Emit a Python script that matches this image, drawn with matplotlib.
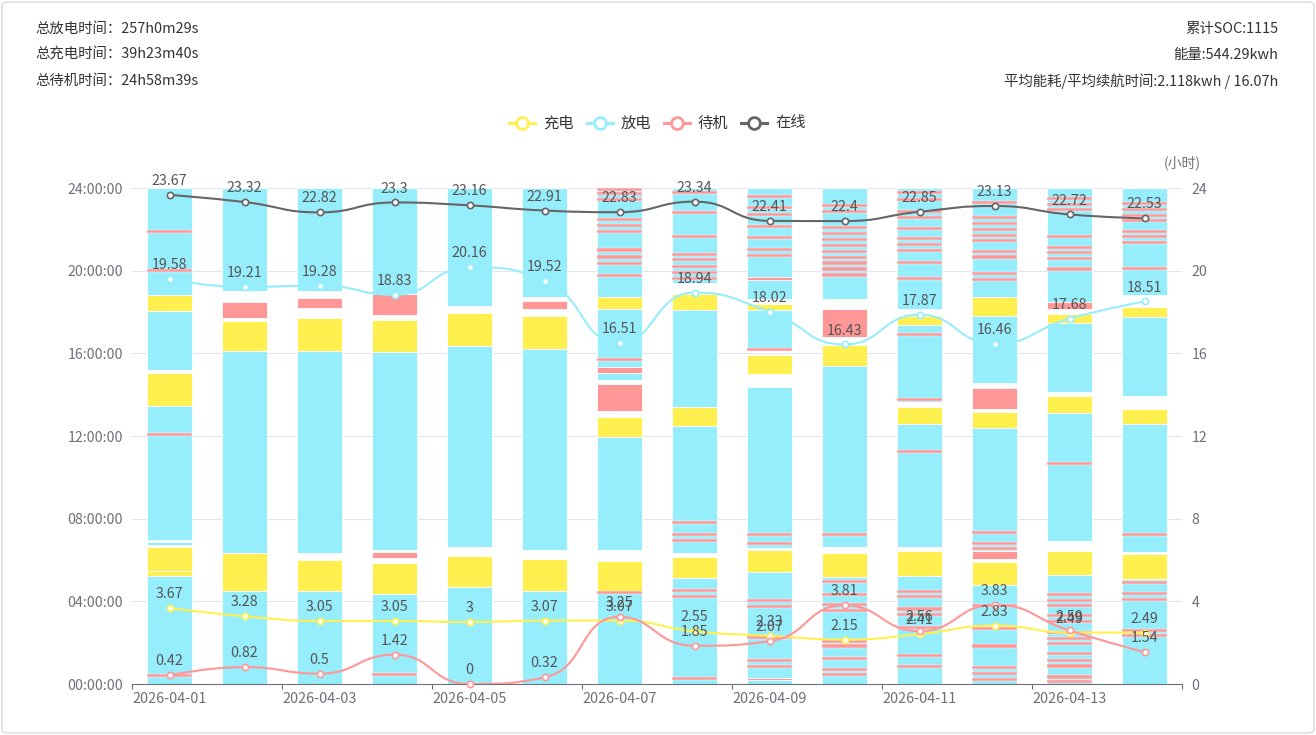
import matplotlib
matplotlib.use('Agg')
import matplotlib.pyplot as plt
import numpy as np
from matplotlib.path import Path
from matplotlib.patches import PathPatch, FancyBboxPatch
from matplotlib.lines import Line2D

plt.rcParams['font.family'] = ['Noto Sans CJK SC', 'DejaVu Sans']

# ---------------- data ----------------
dates = ['2026-04-01', '2026-04-02', '2026-04-03', '2026-04-04', '2026-04-05',
         '2026-04-06', '2026-04-07', '2026-04-08', '2026-04-09', '2026-04-10',
         '2026-04-11', '2026-04-12', '2026-04-13', '2026-04-14']
charge_hours = [3.67, 3.28, 3.05, 3.05, 3, 3.07, 3.07, 2.55, 2.33, 2.15, 2.41, 2.83, 2.49, 2.49]
discharge_hours = [19.58, 19.21, 19.28, 18.83, 20.16, 19.52, 16.51, 18.94, 18.02, 16.43, 17.87, 16.46, 17.68, 18.51]
idle_hours = [0.42, 0.82, 0.5, 1.42, 0, 0.32, 3.25, 1.85, 2.07, 3.81, 2.56, 3.83, 2.59, 1.54]
online_hours = [23.67, 23.32, 22.82, 23.3, 23.16, 22.91, 22.83, 23.34, 22.41, 22.4, 22.85, 23.13, 22.72, 22.53]

# status timeline per day: (start hour, end hour, status) c=charge d=discharge i=idle
seg_01 = [(18.83, 24, 'd'), (18.06, 18.83, 'c'), (15.2, 18.06, 'd'), (13.46, 15.05, 'c'),
          (6.95, 13.46, 'd'), (6.75, 6.88, 'd'), (5.49, 6.65, 'c'), (5.24, 5.45, 'c'), (0, 5.24, 'd')]
seg_02 = [(19.0, 24, 'd'), (17.7, 18.5, 'i'), (16.1, 17.55, 'c'), (6.33, 16.1, 'd'),
          (4.48, 6.33, 'c'), (0, 4.48, 'd')]
seg_03 = [(19.0, 24, 'd'), (18.18, 18.67, 'i'), (16.12, 17.7, 'c'), (6.35, 16.12, 'd'),
          (4.51, 6.0, 'c'), (0, 4.51, 'd')]
seg_04 = [(18.88, 24, 'd'), (17.86, 18.88, 'i'), (16.08, 17.62, 'c'), (6.46, 16.08, 'd'),
          (6.08, 6.41, 'i'), (4.35, 5.85, 'c'), (0, 4.35, 'd')]
seg_05 = [(18.3, 24, 'd'), (16.36, 17.95, 'c'), (6.62, 16.36, 'd'), (4.71, 6.17, 'c'), (0, 4.71, 'd')]
seg_06 = [(18.75, 24, 'd'), (18.16, 18.51, 'i'), (16.23, 17.83, 'c'), (6.5, 16.23, 'd'),
          (4.51, 6.03, 'c'), (0, 4.51, 'd')]
seg_07 = [(18.75, 24, 'd'), (18.14, 18.75, 'c'), (14.7, 18.14, 'd'), (15.06, 15.35, 'i'),
          (13.2, 14.5, 'i'), (11.93, 12.93, 'c'), (6.48, 11.93, 'd'), (4.43, 5.93, 'c'), (0, 4.43, 'd')]
seg_08 = [(19.4, 24, 'd'), (18.11, 18.85, 'c'), (13.38, 18.11, 'd'), (12.49, 13.38, 'c'),
          (6.34, 12.49, 'd'), (5.11, 6.13, 'c'), (0, 5.11, 'd')]
seg_09 = [(18.64, 24, 'd'), (19.55, 19.7, 'i'), (18.1, 18.4, 'c'), (16.17, 18.1, 'd'),
          (14.98, 15.9, 'c'), (14.38, 14.44, 'c'), (6.6, 14.38, 'd'), (5.4, 6.5, 'c'),
          (0, 5.4, 'd'), (0.18, 0.3, 'i')]
seg_10 = [(18.62, 24, 'd'), (16.81, 18.14, 'i'), (15.39, 16.4, 'c'), (6.65, 15.39, 'd'),
          (5.2, 6.33, 'c'), (0, 5.2, 'd')]
seg_11 = [(18.14, 24, 'd'), (17.38, 17.8, 'c'), (13.65, 17.38, 'd'), (12.6, 13.38, 'c'),
          (6.62, 12.6, 'd'), (5.24, 6.42, 'c'), (0, 5.24, 'd')]
seg_12 = [(18.75, 24, 'd'), (17.82, 18.75, 'c'), (14.58, 17.82, 'd'), (13.33, 14.3, 'i'),
          (12.41, 13.17, 'c'), (6.42, 12.41, 'd'), (6.05, 6.42, 'i'), (4.79, 5.89, 'c'), (0, 4.79, 'd')]
seg_13 = [(18.46, 24, 'd'), (18.14, 18.46, 'i'), (17.46, 17.9, 'c'), (14.11, 17.46, 'd'),
          (13.09, 13.95, 'c'), (6.94, 13.09, 'd'), (5.27, 6.42, 'c'), (0, 5.27, 'd')]
seg_14 = [(18.8, 24, 'd'), (17.75, 18.24, 'c'), (13.93, 17.75, 'd'), (12.57, 13.33, 'c'),
          (6.37, 12.57, 'd'), (5.08, 6.29, 'c'), (0, 5.08, 'd')]

# brief idle events (hour of day)
marks_01 = [21.9, 20.0, 12.07, 0.4]
marks_02 = []
marks_03 = []
marks_04 = [0.47]
marks_05 = []
marks_06 = []
marks_07 = [23.94, 23.74, 23.45, 22.48, 22.19, 21.9, 21.0, 20.66, 20.34, 19.76, 15.7, 4.43]
marks_08 = [23.77, 22.83, 21.67, 20.78, 20.53, 20.2, 19.9, 19.63, 7.83, 7.23, 6.94, 4.51, 4.22, 0.27]
marks_09 = [23.6, 23.04, 22.72, 22.15, 21.59, 21.02, 20.73, 16.2, 7.23, 6.78, 4.03, 3.74, 2.25, 1.12, 0.83]
marks_10 = [23.16, 22.88, 22.07, 21.78, 21.5, 21.21, 20.94, 20.65, 20.37, 20.08, 19.79, 7.22,
            4.97, 4.35, 3.83, 3.54, 2.05, 1.84, 1.25, 0.71, 0.44]
marks_11 = [23.77, 23.45, 22.88, 22.56, 22.04, 21.54, 21.26, 20.99, 20.4, 19.63, 16.89, 13.77,
            11.23, 4.47, 4.23, 3.63, 3.38, 2.73, 1.39, 0.83]
marks_12 = [23.32, 22.56, 22.28, 21.99, 21.7, 21.46, 20.94, 20.66, 19.85, 19.59, 7.35, 6.78, 6.54,
            3.79, 2.7, 1.84, 0.8, 0.51, 0.23]
marks_13 = [23.48, 23.2, 22.96, 21.64, 21.13, 20.89, 20.6, 20.08, 10.69, 4.32, 4.03, 3.79, 3.31,
            3.03, 2.49, 2.21, 1.96, 1.47, 1.14, 0.87, 0.34, 0.11]
marks_14 = [23.24, 22.96, 22.68, 22.43, 21.91, 21.67, 21.37, 20.1, 7.23, 4.89, 4.39, 4.11, 2.57, 2.33]

day_segments = [seg_01, seg_02, seg_03, seg_04, seg_05, seg_06, seg_07,
                seg_08, seg_09, seg_10, seg_11, seg_12, seg_13, seg_14]
day_marks = [marks_01, marks_02, marks_03, marks_04, marks_05, marks_06, marks_07,
             marks_08, marks_09, marks_10, marks_11, marks_12, marks_13, marks_14]

header_left = ['总放电时间：257h0m29s', '总充电时间：39h23m40s', '总待机时间：24h58m39s']
header_right = ['累计SOC:1115', '能量:544.29kwh', '平均能耗/平均续航时间:2.118kwh / 16.07h']
legend_names = ['充电', '放电', '待机', '在线']

# ---------------- style ----------------
C_YEL = '#FFF04F'
C_CYA = '#96EDFC'
C_PNK = '#FF9797'
C_GRY = '#666666'
AX_C = '#6E7079'
GRID_C = '#E0E6F1'
kind_color = {'c': C_YEL, 'd': C_CYA, 'i': C_PNK}

W, H = 1316, 735
fig = plt.figure(figsize=(W / 100, H / 100), dpi=100)
fig.patch.set_facecolor('white')

def fx(x):
    return x / W

def fy(y):
    return 1 - y / H

ax_l, ax_r, ax_t, ax_b = 132, 1182, 188, 684
ax = fig.add_axes([fx(ax_l), fy(ax_b), (ax_r - ax_l) / W, (ax_b - ax_t) / H])
n = len(dates)
xs = np.arange(n)
ax.set_xlim(-0.5, n - 0.5)
ax.set_ylim(0, 24)
ax.set_axisbelow(True)

# grid
for yv in range(4, 25, 4):
    ax.axhline(yv, color=GRID_C, lw=0.75, zorder=0)

# bars
bw = 0.6
for i, segs in enumerate(day_segments):
    for (s, e, k) in segs:
        ax.bar(xs[i], e - s, bottom=s, width=bw, color=kind_color[k],
               edgecolor='white', linewidth=0.6, zorder=2)
    for m in day_marks[i]:
        ax.bar(xs[i], 0.15, bottom=m - 0.075, width=bw, color=C_PNK,
               edgecolor='white', linewidth=0.3, zorder=3)

# smooth lines (ECharts-like bezier smoothing)
SX, SY = (ax_r - ax_l) / n, (ax_b - ax_t) / 24.0

def clamp(v, a, b):
    lo, hi = min(a, b), max(a, b)
    return min(max(v, lo), hi)

def smooth_path(xv, yv, smooth=0.5):
    P = np.column_stack([np.asarray(xv, float) * SX, np.asarray(yv, float) * SY])
    m = len(P)
    verts = [P[0]]
    codes = [Path.MOVETO]
    cp0 = P[0].copy()
    for i in range(1, m):
        x, y = P[i]
        px, py = P[i - 1]
        if i == m - 1:
            cp1 = (x, y)
            ncp0 = None
        else:
            nx, ny = P[i + 1]
            vx, vy = nx - px, ny - py
            lp = np.hypot(x - px, y - py)
            ln = np.hypot(nx - x, ny - y)
            r = ln / (ln + lp)
            ncx = clamp(x + vx * smooth * r, nx, x)
            ncy = clamp(y + vy * smooth * r, ny, y)
            vx, vy = ncx - x, ncy - y
            c1x = clamp(x - vx * lp / ln, px, x)
            c1y = clamp(y - vy * lp / ln, py, y)
            vx, vy = x - c1x, y - c1y
            ncp0 = (x + vx * ln / lp, y + vy * ln / lp)
            cp1 = (c1x, c1y)
        verts += [cp0, cp1, (x, y)]
        codes += [Path.CURVE4] * 3
        cp0 = ncp0
    V = np.array(verts, float) / np.array([SX, SY])
    return Path(V, codes)

series = [(charge_hours, C_YEL), (discharge_hours, C_CYA), (idle_hours, C_PNK), (online_hours, C_GRY)]
for vals, col in series:
    ax.add_patch(PathPatch(smooth_path(xs, vals), fill=False, edgecolor=col, lw=1.5, zorder=5,
                           capstyle='round', joinstyle='round'))
    ax.plot(xs, vals, linestyle='none', marker='o', markersize=4.5, markerfacecolor='white',
            markeredgecolor=col, markeredgewidth=1.2, zorder=6, clip_on=False)
    for xi, v in zip(xs, vals):
        ax.annotate(f'{v:g}', (xi, v), xytext=(0, 5), textcoords='offset points',
                    ha='center', va='bottom', fontsize=10.3, color='#555555', zorder=7,
                    annotation_clip=False)

# axes styling
for sp in ['left', 'right', 'top']:
    ax.spines[sp].set_visible(False)
ax.spines['bottom'].set_color(AX_C)
ax.spines['bottom'].set_linewidth(0.8)
ax.spines['bottom'].set_zorder(4)

ax.set_yticks(range(0, 25, 4))
ax.set_yticklabels([f'{h:02d}:00:00' for h in range(0, 25, 4)])
ax.tick_params(axis='y', length=0, pad=6.5, labelsize=10.2, labelcolor=AX_C)

ax.set_xticks(xs[::2])
ax.set_xticklabels(dates[::2])
ax.set_xticks(np.arange(-0.5, n, 2), minor=True)
ax.tick_params(axis='x', which='major', length=0, pad=5.5, labelsize=10.4, labelcolor=AX_C)
ax.tick_params(axis='x', which='minor', length=3.6, width=0.8, color=AX_C, direction='out')

ax2 = ax.twinx()
ax2.set_ylim(0, 24)
ax2.set_yticks(range(0, 25, 4))
for sp in ['left', 'right', 'top', 'bottom']:
    ax2.spines[sp].set_visible(False)
ax2.tick_params(axis='y', length=0, pad=7, labelsize=10.2, labelcolor=AX_C)
fig.text(fx(1182), fy(163), '(小时)', ha='center', va='center', fontsize=10, color=AX_C)

# header texts
for k, t in enumerate(header_left):
    fig.text(fx(35), fy(29 + 26 * k), t, ha='left', va='center', fontsize=10.4, color='#333333')
for k, t in enumerate(header_right):
    fig.text(fx(1278), fy(29 + 26 * k), t, ha='right', va='center', fontsize=10.4, color='#333333')

# legend
leg_cols = [C_YEL, C_CYA, C_PNK, C_GRY]
icon_x = [522, 600, 677, 754]
ly = 123
for cx, col, name in zip(icon_x, leg_cols, legend_names):
    fig.add_artist(Line2D([fx(cx - 13), fx(cx + 13)], [fy(ly), fy(ly)], color=col, lw=2.2,
                          transform=fig.transFigure))
    fig.add_artist(Line2D([fx(cx)], [fy(ly)], marker='o', markersize=8.5, markerfacecolor='white',
                          markeredgecolor=col, markeredgewidth=2, transform=fig.transFigure))
    fig.text(fx(cx + 21), fy(ly), name, ha='left', va='center', fontsize=11, color='#333333')

# outer rounded border
fig.add_artist(FancyBboxPatch((fx(2), fy(733)), fx(1312), 731 / H,
                              boxstyle='round,pad=0,rounding_size=0.005',
                              transform=fig.transFigure, facecolor='none',
                              edgecolor='#D9D9D9', lw=1.0))

fig.savefig('out.png', dpi=100, facecolor='white')
